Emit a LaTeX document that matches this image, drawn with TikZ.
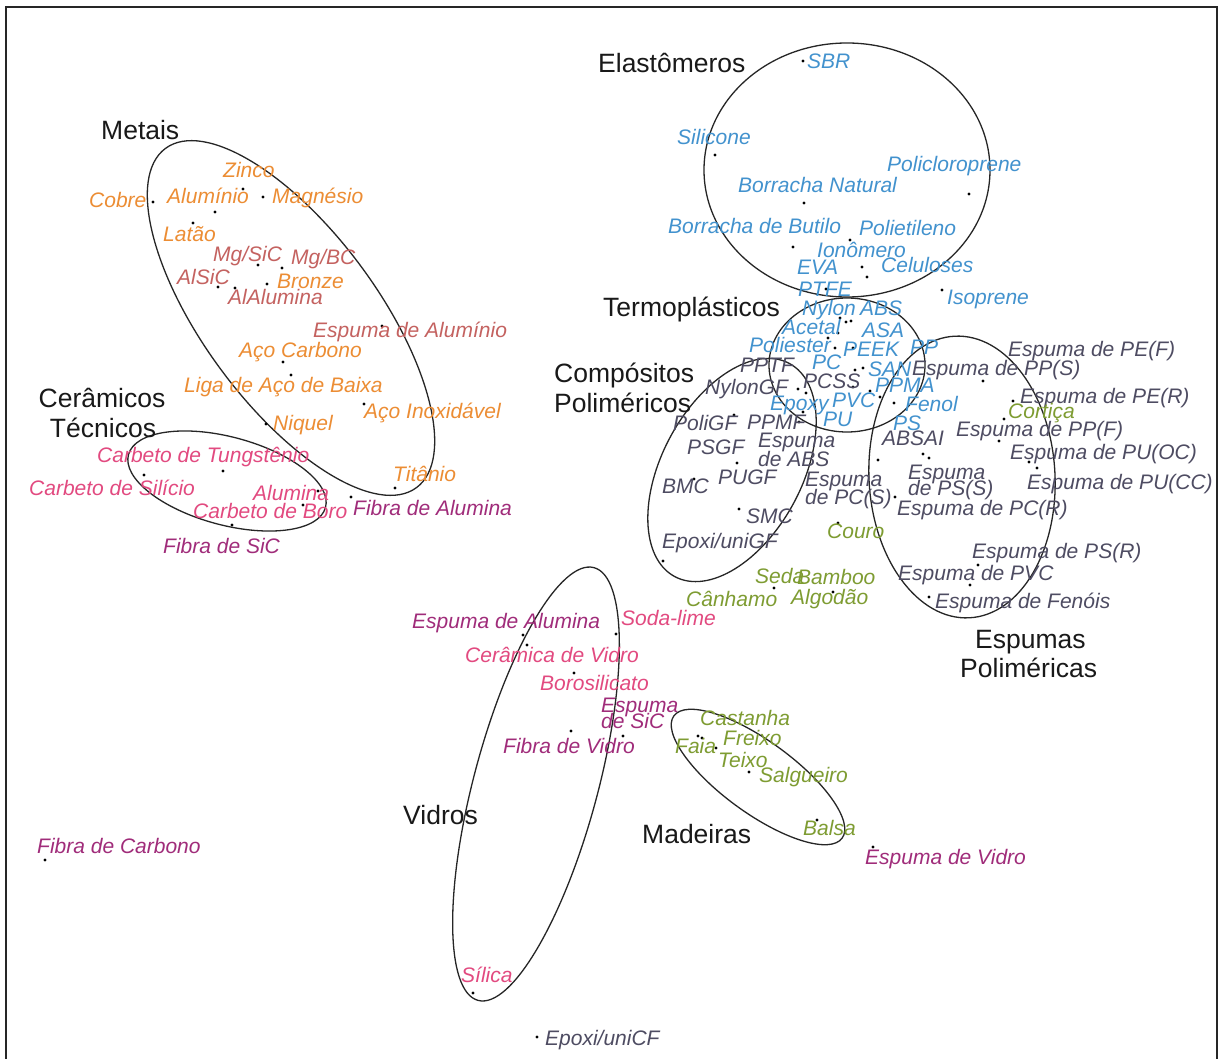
\documentclass[tikz,border=0pt]{standalone}
\usepackage{fontspec}
\setmainfont{Liberation Sans}
\definecolor{metalc}{RGB}{236,141,52}
\definecolor{mmcc}{RGB}{196,98,96}
\definecolor{ceramc}{RGB}{226,74,128}
\definecolor{fibrec}{RGB}{160,44,122}
\definecolor{polyc}{RGB}{66,146,206}
\definecolor{slatec}{RGB}{78,76,98}
\definecolor{natc}{RGB}{126,156,50}
\begin{document}
\begin{tikzpicture}[x=1pt,y=-1pt,
  lab/.style={anchor=base west, inner sep=0pt, font=\fontsize{21}{21}\selectfont\itshape},
  grp/.style={anchor=base west, inner sep=0pt, text=black!90, font=\fontsize{26.5}{28}\selectfont},
  grpc/.style={grp, anchor=base},
  met/.style={lab, text=metalc},
  mmc/.style={lab, text=mmcc},
  cer/.style={lab, text=ceramc},
  fib/.style={lab, text=fibrec},
  pol/.style={lab, text=polyc},
  sla/.style={lab, text=slatec},
  nat/.style={lab, text=natc},
  ring/.style={draw=black!85, line width=1.3pt},
  dot/.style={fill=black}]
\useasboundingbox (0,0) rectangle (1219,1059);
\fill[white] (0,0) rectangle (1219,1059);
% frame
\draw[line width=2pt, black!85] (6,1059) -- (6,7) -- (1217,7) -- (1217,1059);

% family outlines
\draw[ring, rotate around={-53.5:(291,318)}] (291,318) ellipse [x radius=211, y radius=87];
\draw[ring, rotate around={-15:(227,481)}] (227,481) ellipse [x radius=102, y radius=44];
\draw[ring] (847,170) ellipse [x radius=143, y radius=127];
\draw[ring] (847,365) ellipse [x radius=78, y radius=67];
\draw[ring, rotate around={61.7:(732,470)}] (732,470) ellipse [x radius=121, y radius=70];
\draw[ring, rotate around={3:(962,477)}] (962,477) ellipse [x radius=93, y radius=141];
\draw[ring, rotate around={75:(536,784)}] (536,784) ellipse [x radius=224, y radius=62];
\draw[ring, rotate around={-36:(758,777)}] (758,777) ellipse [x radius=104, y radius=36];

% family names
\node[grp] (gElast) at (598,73) {Elastômeros};
\node[grp] (gMet) at (101,140) {Metais};
\node[grp] (gTermo) at (603,317) {Termoplásticos};
\node[grp] (gComp1) at (554,383) {Compósitos};
\node[grp] (gComp2) at (554,413) {Poliméricos};
\node[grpc] (gCer1) at (102,408) {Cerâmicos};
\node[grpc] (gCer2) at (103,438) {Técnicos};
\node[grp] (gEsp1) at (975,648) {Espumas};
\node[grp] (gEsp2) at (960,677) {Poliméricas};
\node[grp] (gVid) at (403,824) {Vidros};
\node[grp] (gMad) at (642,843) {Madeiras};

% data points
\foreach \p in {(243,189),(263,197),(153,202),(215,212),(193,223),(258,265),(282,268),
  (218,287),(235,288),(267,284),(382,326),(283,362),(291,375),(364,404),(266,424),
  (223,471),(395,488),(144,475),(318,491),(303,505),(351,497),(232,525),
  (803,61),(715,155),(969,194),(804,203),(793,247),(850,240),(862,267),(867,277),
  (826,289),(942,290),
  (840,318),(846,322),(851,321),(838,333),(828,338),(835,348),(853,348),(855,370),
  (863,368),(853,387),(870,391),(880,397),(894,403),(798,389),(806,393),(803,412),
  (799,422),(734,415),(737,463),(878,460),(923,454),(929,458),
  (694,479),(739,509),(663,561),(895,497),(838,523),
  (983,381),(1013,401),(1004,419),(999,441),(1029,462),(1037,468),(978,565),(970,585),(929,597),
  (774,588),(833,592),(698,736),(702,738),(716,748),(749,772),(817,820),
  (523,635),(616,634),(527,645),(574,673),(623,736),(571,731),(473,993),
  (45,860),(537,1037),(873,847)}
  \fill[dot] \p circle (1.6);

% metals
\node[met] (zinco) at (223,178) {Zinco};
\node[met] (aluminio) at (167,204) {Alumínio};
\node[met] (magnesio) at (272,204) {Magnésio};
\node[met] (cobre) at (89,208) {Cobre};
\node[met] (latao) at (163,242) {Latão};
\node[met] (bronze) at (277,289) {Bronze};
\node[met] (acocarb) at (239,358) {Aço Carbono};
\node[met] (ligaaco) at (184,392) {Liga de Aço de Baixa};
\node[met] (acoinox) at (364,418) {Aço Inoxidável};
\node[met] (niquel) at (273,430) {Niquel};
\node[met] (titanio) at (393,481) {Titânio};
% metal composites
\node[mmc] (mgsic) at (213,262) {Mg/SiC};
\node[mmc] (mgbc) at (291,265) {Mg/BC};
\node[mmc] (alsic) at (177,285) {AlSiC};
\node[mmc] (alalum) at (228,305) {AlAlumina};
\node[mmc] (espalum) at (313,338) {Espuma de Alumínio};
% ceramics and glasses
\node[cer] (cbtung) at (97,462) {Carbeto de Tungstênio};
\node[cer] (cbsil) at (29,495) {Carbeto de Silício};
\node[cer] (alumina) at (253,500) {Alumina};
\node[cer] (cbboro) at (193,518) {Carbeto de Boro};
\node[cer] (sodalime) at (621,625) {Soda-lime};
\node[cer] (ceramvid) at (465,662) {Cerâmica de Vidro};
\node[cer] (borosil) at (540,690) {Borosilicato};
\node[cer] (silica) at (461,982) {Sílica};
% fibres and ceramic foams
\node[fib] (fibalum) at (353,515) {Fibra de Alumina};
\node[fib] (fibsic) at (163,553) {Fibra de SiC};
\node[fib] (fibcarb) at (37,853) {Fibra de Carbono};
\node[fib] (espalumina) at (412,628) {Espuma de Alumina};
\node[fib] (espsic1) at (601,712) {Espuma};
\node[fib] (espsic2) at (601,728) {de SiC};
\node[fib] (fibvid) at (503,753) {Fibra de Vidro};
\node[fib] (espvid) at (865,864) {Espuma de Vidro};
% elastomers
\node[pol] (sbr) at (807,69) {SBR};
\node[pol] (silicone) at (677,145) {Silicone};
\node[pol] (policloro) at (887,172) {Policloroprene};
\node[pol] (bnatural) at (738,193) {Borracha Natural};
\node[pol] (bbutilo) at (668,234) {Borracha de Butilo};
\node[pol] (polietil) at (859,236) {Polietileno};
\node[pol] (ionomero) at (817,258) {Ionômero};
\node[pol] (eva) at (797,275) {EVA};
\node[pol] (celulose) at (881,273) {Celuloses};
\node[pol] (isoprene) at (947,305) {Isoprene};
% thermoplastics
\node[pol] (ptfe) at (798,297) {PTFE};
\node[pol] (nylon) at (802,316) {Nylon};
\node[pol] (abs) at (860,316) {ABS};
\node[pol] (acetal) at (782,335) {Acetal};
\node[pol] (asa) at (862,338) {ASA};
\node[pol] (poliester) at (749,353) {Poliester};
\node[pol] (peek) at (843,357) {PEEK};
\node[pol] (pp) at (910,355) {PP};
\node[pol] (pc) at (812,370) {PC};
\node[pol] (san) at (868,377) {SAN};
\node[pol] (ppma) at (875,393) {PPMA};
\node[pol] (epoxy) at (770,410) {Epoxy};
\node[pol] (pvc) at (832,408) {PVC};
\node[pol] (fenol) at (905,412) {Fenol};
\node[pol] (pu) at (823,427) {PU};
\node[pol] (ps) at (893,430) {PS};
% polymer composites
\node[sla] (pptf) at (740,373) {PPTF};
\node[sla] (nylongf) at (705,395) {NylonGF};
\node[sla] (pcss) at (803,389) {PCSS};
\node[sla] (poligf) at (673,431) {PoliGF};
\node[sla] (ppmf) at (747,429) {PPMF};
\node[sla] (psgf) at (687,454) {PSGF};
\node[sla] (espabs1) at (758,447) {Espuma};
\node[sla] (espabs2) at (758,466) {de ABS};
\node[sla] (absai) at (882,446) {ABSAI};
\node[sla] (pugf) at (718,484) {PUGF};
\node[sla] (bmc) at (662,493) {BMC};
\node[sla] (esppcs1) at (805,486) {Espuma};
\node[sla] (esppcs2) at (805,504) {de PC(S)};
\node[sla] (smc) at (746,523) {SMC};
\node[sla] (epoxigf) at (662,548) {Epoxi/uniGF};
\node[sla] (epoxicf) at (545,1045) {Epoxi/uniCF};
% polymer foams
\node[sla] (espPEF) at (1008,357) {Espuma de PE(F)};
\node[sla] (espPPS) at (912,376) {Espuma de PP(S)};
\node[sla] (espPER) at (1020,403) {Espuma de PE(R)};
\node[sla] (espPPF) at (956,436) {Espuma de PP(F)};
\node[sla] (espPUOC) at (1010,459) {Espuma de PU(OC)};
\node[sla] (espPSS1) at (908,479) {Espuma};
\node[sla] (espPSS2) at (908,495) {de PS(S)};
\node[sla] (espPUCC) at (1027,489) {Espuma de PU(CC)};
\node[sla] (espPCR) at (897,515) {Espuma de PC(R)};
\node[sla] (espPSR) at (972,558) {Espuma de PS(R)};
\node[sla] (espPVC) at (898,580) {Espuma de PVC};
\node[sla] (espFen) at (935,608) {Espuma de Fenóis};
% natural materials
\node[nat] (cortica) at (1008,418) {Cortiça};
\node[nat] (couro) at (827,538) {Couro};
\node[nat] (seda) at (755,583) {Seda};
\node[nat] (bamboo) at (797,584) {Bamboo};
\node[nat] (canhamo) at (686,606) {Cânhamo};
\node[nat] (algodao) at (791,604) {Algodão};
\node[nat] (castanha) at (700,725) {Castanha};
\node[nat] (freixo) at (723,745) {Freixo};
\node[nat] (faia) at (675,753) {Faia};
\node[nat] (teixo) at (718,767) {Teixo};
\node[nat] (salgueiro) at (759,782) {Salgueiro};
\node[nat] (balsa) at (803,835) {Balsa};
\end{tikzpicture}
\end{document}
